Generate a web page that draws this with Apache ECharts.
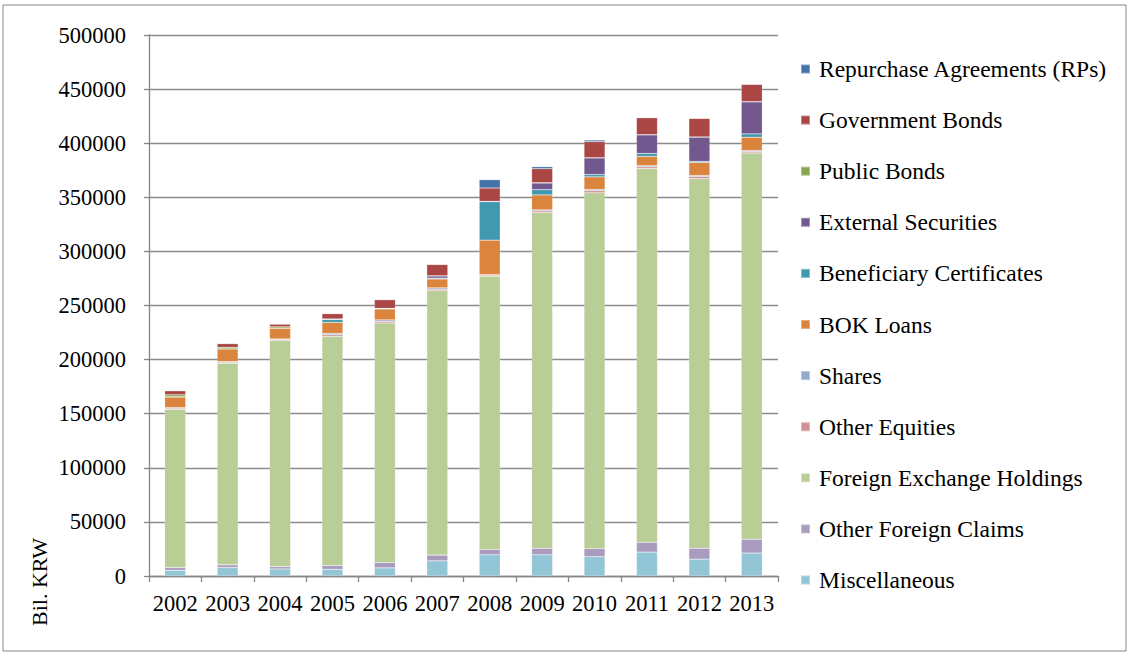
<!DOCTYPE html>
<html>
<head>
<meta charset="utf-8">
<script src="https://cdn.jsdelivr.net/npm/echarts@6/dist/echarts.min.js"></script>
<style>
html,body{margin:0;padding:0;background:#fff;overflow:hidden;}
#chart{width:1132px;height:655px;}
</style>
</head>
<body>
<div id="chart"></div>
<script>
// ---- data (Bil. KRW) ----
const years = ['2002','2003','2004','2005','2006','2007','2008','2009','2010','2011','2012','2013'];
const yTicks = [0, 50000, 100000, 150000, 200000, 250000, 300000, 350000, 400000, 450000, 500000];
const miscellaneous      = [5300, 7800, 6500, 6200, 7500, 14000, 19600, 19600, 17800, 22100, 15600, 21200];
const otherForeignClaims = [2500, 2500, 2200, 3500, 5000, 5300, 5000, 6000, 7500, 9100, 10000, 12800];
const foreignExchange    = [146300, 186400, 208900, 211700, 221400, 244500, 252400, 310300, 328800, 345500, 341600, 357000];
const otherEquities      = [1000, 900, 900, 1500, 1500, 1300, 1000, 1500, 2000, 1500, 2000, 1300];
const shares             = [500, 600, 600, 1300, 1300, 1200, 500, 1000, 1100, 1000, 1000, 900];
const bokLoans           = [9800, 11700, 10000, 10100, 10100, 8200, 31900, 13800, 11700, 8600, 12000, 12300];
const beneficiaryCerts   = [300, 0, 0, 2800, 300, 800, 35600, 4900, 2100, 2700, 1000, 3100];
const externalSecurities = [0, 0, 0, 0, 0, 2000, 0, 6100, 15400, 17200, 22400, 29600];
const publicBonds        = [1800, 1500, 1200, 500, 300, 200, 300, 300, 200, 200, 200, 200];
const governmentBonds    = [3700, 3400, 2500, 4900, 8000, 10400, 12300, 12900, 14800, 15700, 17100, 16000];
const repurchaseAgr      = [0, 0, 0, 0, 0, 0, 7700, 1900, 1500, 0, 0, 0];

// stacking order bottom -> top
const seriesDefs = [
  ['Miscellaneous', miscellaneous, '#92C5D6'],
  ['Other Foreign Claims', otherForeignClaims, '#A99BBD'],
  ['Foreign Exchange Holdings', foreignExchange, '#B9CD96'],
  ['Other Equities', otherEquities, '#D19392'],
  ['Shares', shares, '#93A9CF'],
  ['BOK Loans', bokLoans, '#DB843D'],
  ['Beneficiary Certificates', beneficiaryCerts, '#4198AF'],
  ['External Securities', externalSecurities, '#71588F'],
  ['Public Bonds', publicBonds, '#89A54E'],
  ['Government Bonds', governmentBonds, '#AA4643'],
  ['Repurchase Agreements (RPs)', repurchaseAgr, '#4572A7']
];

const FONT = 'Liberation Serif';
const chart = echarts.init(document.getElementById('chart'), null, {renderer: 'svg'});
chart.setOption({
  animation: false,
  textStyle: {fontFamily: FONT, color: '#000'},
  grid: {left: 149, right: 354, top: 35, bottom: 79},
  legend: {
    orient: 'vertical',
    left: 800,
    top: 57,
    padding: 0,
    itemWidth: 9,
    itemHeight: 9,
    itemGap: 27.1,
    icon: 'rect',
    data: seriesDefs.map(d => d[0]).reverse(),
    textStyle: {fontFamily: FONT, fontSize: 23.5, color: '#000', lineHeight: 24, padding: [0, 0, 0, 4]}
  },
  xAxis: {
    type: 'category',
    data: years,
    axisLine: {lineStyle: {color: '#868686', width: 1.3}},
    axisTick: {show: true, length: 6, lineStyle: {color: '#868686', width: 1.3}},
    axisLabel: {fontFamily: FONT, fontSize: 22.5, color: '#000', margin: 16, interval: 0}
  },
  yAxis: {
    type: 'value',
    min: yTicks[0],
    max: yTicks[yTicks.length - 1],
    interval: yTicks[1] - yTicks[0],
    axisLine: {show: true, lineStyle: {color: '#868686', width: 1.3}},
    axisTick: {show: true, length: 5, lineStyle: {color: '#868686', width: 1.3}},
    splitLine: {lineStyle: {color: '#8c8c8c', width: 1.3}},
    axisLabel: {fontFamily: FONT, fontSize: 22.5, color: '#000', margin: 23, formatter: v => String(v)}
  },
  graphic: [
    {type: 'rect', shape: {x: 3, y: 5, width: 1123, height: 646}, style: {fill: 'none', stroke: '#868686', lineWidth: 1}, silent: true},
    {type: 'text', x: 39, y: 582, rotation: Math.PI / 2,
     style: {text: 'Bil. KRW', font: '22px "Liberation Serif"', fill: '#000', align: 'center', verticalAlign: 'middle'}}
  ],
  series: seriesDefs.map(d => ({
    name: d[0],
    type: 'bar',
    stack: 'total',
    data: d[1],
    barWidth: 21,
    itemStyle: {color: d[2], borderColor: 'rgba(255,255,255,0.35)', borderWidth: 0.5}
  }))
});
</script>
</body>
</html>
